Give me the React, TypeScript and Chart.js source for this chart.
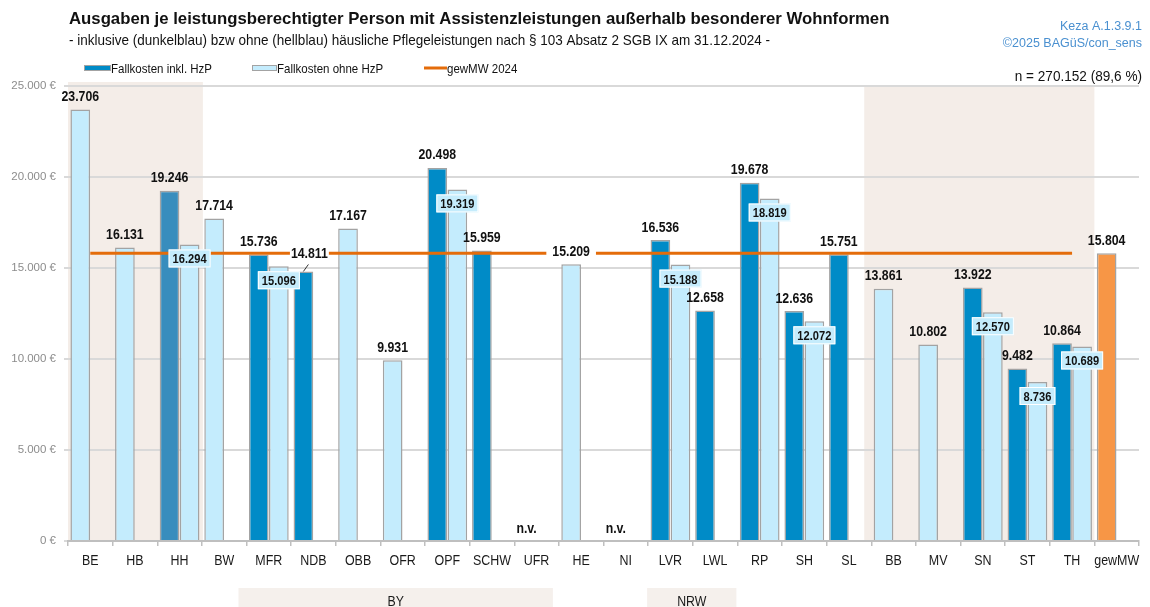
import React, { useEffect, useRef } from 'react';
import { Chart, registerables } from 'chart.js';

Chart.register(...registerables);

// ---------- data ----------
const categories = ['BE', 'HB', 'HH', 'BW', 'MFR', 'NDB', 'OBB', 'OFR', 'OPF', 'SCHW', 'UFR', 'HE', 'NI', 'LVR', 'LWL', 'RP', 'SH', 'SL', 'BB', 'MV', 'SN', 'ST', 'TH', 'gewMW'];
const fallkostenInklHzP: (number | null)[] = [null, null, 19246, null, 15736, 14811, null, null, 20498, 15959, null, null, null, 16536, 12658, 19678, 12636, 15751, null, null, 13922, 9482, 10864, null];
const fallkostenOhneHzP: (number | null)[] = [23706, 16131, 16294, 17714, 15096, null, 17167, 9931, 19319, null, null, 15209, null, 15188, null, 18819, 12072, null, 13861, 10802, 12570, 8736, 10689, null];
const gewMW2024 = 15804;
const notAvailable = ['UFR', 'NI'];
const shadedRanges = [['BE', 'HH'], ['BB', 'TH']];
const groupLabels = [
  { label: 'BY', from: 'MFR', to: 'UFR' },
  { label: 'NRW', from: 'LVR', to: 'LWL' },
];
const yMax = 25000;
const yStep = 5000;

const titleText = 'Ausgaben je leistungsberechtigter Person mit Assistenzleistungen außerhalb besonderer Wohnformen';
const subtitleText = '- inklusive (dunkelblau) bzw ohne (hellblau) häusliche Pflegeleistungen nach § 103 Absatz 2 SGB IX am 31.12.2024 -';
const sourceLines = ['Keza A.1.3.9.1', '©2025 BAGüS/con_sens'];
const nText = 'n = 270.152 (89,6 %)';
const legendLabels = ['Fallkosten inkl. HzP', 'Fallkosten ohne HzP', 'gewMW 2024'];

// ---------- styles ----------
const FONT = '"Liberation Sans", Arial, Helvetica, sans-serif';
const DARK = '#008bc7';
const DARK_HH = '#388dbd';
const LIGHT = '#c4ecfd';
const ORANGE = '#f79646';
const LINE = '#e46c0a';
const BORDER = '#a3a3a3';
const BEIGE = '#f4ede8';
const BOX_BEIGE = '#f5f0ec';
const NARROW = 0.82;

const fmt = (v: number) => String(Math.round(v)).replace(/\B(?=(\d{3})+(?!\d))/g, '.');

// slot assignment: first slot holds the dark bar if present, otherwise the light bar
const slot1 = categories.map((c, i) => (c === 'gewMW' ? gewMW2024 : fallkostenInklHzP[i] ?? fallkostenOhneHzP[i]));
const slot2 = categories.map((_, i) => (fallkostenInklHzP[i] != null ? fallkostenOhneHzP[i] : null));
const slot1Colors = categories.map((c, i) => {
  if (c === 'gewMW') return ORANGE;
  if (fallkostenInklHzP[i] != null) return c === 'HH' ? DARK_HH : DARK;
  return LIGHT;
});
const lineData = categories.map((c) => (c === 'gewMW' ? null : gewMW2024));

function drawText(
  ctx: CanvasRenderingContext2D,
  s: string,
  x: number,
  y: number,
  size: number,
  o: { bold?: boolean; sx?: number; align?: 'left' | 'center' | 'right'; color?: string } = {}
) {
  const sx = o.sx ?? 1;
  ctx.save();
  ctx.font = `${o.bold ? 'bold ' : ''}${size}px ${FONT}`;
  ctx.fillStyle = o.color ?? '#000';
  ctx.textBaseline = 'alphabetic';
  ctx.textAlign = 'left';
  const w = ctx.measureText(s).width * sx;
  const left = o.align === 'center' ? x - w / 2 : o.align === 'right' ? x - w : x;
  ctx.translate(left, y);
  ctx.scale(sx, 1);
  ctx.fillText(s, 0, 0);
  ctx.restore();
  return w;
}

function measure(ctx: CanvasRenderingContext2D, s: string, size: number, bold: boolean, sx: number) {
  ctx.save();
  ctx.font = `${bold ? 'bold ' : ''}${size}px ${FONT}`;
  const w = ctx.measureText(s).width * sx;
  ctx.restore();
  return w;
}

const boundary = (chart: any, i: number) => {
  const x = chart.scales.x;
  const half = (x.getPixelForValue(1) - x.getPixelForValue(0)) / 2;
  return x.getPixelForValue(i) - half;
};

const backgroundPlugin = {
  id: 'bgBands',
  beforeDraw(chart: any) {
    const { ctx, chartArea } = chart;
    ctx.save();
    ctx.fillStyle = BEIGE;
    shadedRanges.forEach(([a, b], k) => {
      const i0 = categories.indexOf(a);
      const i1 = categories.indexOf(b) + 1;
      const x0 = k === 0 ? chartArea.left : boundary(chart, i0) - 7;
      const x1 = k === 0 ? boundary(chart, i1) + 1 : boundary(chart, i1);
      const top = k === 0 ? chartArea.top - 4 : chartArea.top;
      ctx.fillRect(x0, top, x1 - x0, chartArea.bottom - top);
    });
    // group boxes below the axis
    const insets: Record<string, [number, number]> = { BY: [-8, -6], NRW: [-1, -1] };
    groupLabels.forEach((g) => {
      const i0 = categories.indexOf(g.from);
      const i1 = categories.indexOf(g.to) + 1;
      const [d0, d1] = insets[g.label] ?? [0, 0];
      const x0 = boundary(chart, i0) + d0;
      const x1 = boundary(chart, i1) + d1;
      ctx.fillStyle = BOX_BEIGE;
      ctx.fillRect(x0, 588, x1 - x0, 19);
      drawText(ctx, g.label, (x0 + x1) / 2, 605.5, 15, { sx: NARROW, align: 'center', color: '#1a1a1a' });
    });
    ctx.restore();
  },
};

const labelPlugin = {
  id: 'valueLabels',
  afterDatasetsDraw(chart: any) {
    const { ctx } = chart;
    const yScale = chart.scales.y;
    const lineY = yScale.getPixelForValue(gewMW2024);
    const m1 = chart.getDatasetMeta(0);
    const m2 = chart.getDatasetMeta(1);
    const size = 15;
    ctx.save();
    categories.forEach((c, i) => {
      const v = slot1[i];
      if (v != null) {
        const el = m1.data[i];
        let x = el.x;
        let base = el.y - 8.5;
        let padX = 6;
        const s = fmt(v);
        if (c === 'NDB') {
          // label pushed aside with leader line
          ctx.strokeStyle = '#333';
          ctx.lineWidth = 1;
          ctx.beginPath();
          ctx.moveTo(el.x, el.y);
          ctx.lineTo(el.x + 5, el.y - 7);
          ctx.stroke();
          x = el.x + 6;
          base = el.y - 13;
          padX = 1;
        }
        const w = measure(ctx, s, size, true, NARROW);
        const top = base - size * 0.72 - 2;
        const bottom = base + 2;
        if (c !== 'gewMW' && lineY >= top - 1 && lineY <= bottom + 1) {
          ctx.fillStyle = '#ffffff';
          ctx.fillRect(x - w / 2 - padX, top, w + padX * 2, bottom - top);
        }
        drawText(ctx, s, x, base, size, { bold: true, sx: NARROW, align: 'center', color: '#111' });
      }
      const v2 = slot2[i];
      if (v2 != null) {
        const el = m2.data[i];
        const s = fmt(v2);
        const fs = 12.5;
        const sx = 0.89;
        const w = measure(ctx, s, fs, true, sx);
        const bx = el.x - w / 2 - 4;
        const by = el.y + 5;
        ctx.fillStyle = '#c5ecfc';
        ctx.fillRect(bx, by, w + 8, 18);
        ctx.strokeStyle = '#ffffff';
        ctx.lineWidth = 1;
        ctx.strokeRect(bx + 0.5, by + 0.5, w + 7, 17);
        drawText(ctx, s, el.x, el.y + 19, fs, { bold: true, sx, align: 'center', color: '#111' });
      }
    });
    // n.v. markers
    const xs = chart.scales.x;
    const catW = xs.getPixelForValue(1) - xs.getPixelForValue(0);
    notAvailable.forEach((c) => {
      const i = categories.indexOf(c);
      const cx = xs.getPixelForValue(i) - (catW * 0.9) / 4;
      drawText(ctx, 'n.v.', cx, 533, 15, { bold: true, sx: NARROW, align: 'center', color: '#111' });
    });
    ctx.restore();
  },
};

const decorPlugin = {
  id: 'decor',
  afterDraw(chart: any) {
    const { ctx } = chart;
    const xs = chart.scales.x;
    ctx.save();
    // title block
    drawText(ctx, titleText, 69, 24, 17, { bold: true, sx: 0.985, color: '#111' });
    drawText(ctx, subtitleText, 69, 45, 15, { sx: 0.9, color: '#111' });
    drawText(ctx, sourceLines[0], 1142, 29.5, 12.5, { align: 'right', color: '#4a90d0' });
    drawText(ctx, sourceLines[1], 1142, 47, 12.5, { align: 'right', color: '#4a90d0' });
    drawText(ctx, nText, 1142, 80.5, 14, { sx: 0.97, align: 'right', color: '#111' });

    // legend
    ctx.fillStyle = DARK;
    ctx.fillRect(84, 65, 27, 6);
    ctx.strokeStyle = BORDER;
    ctx.lineWidth = 1;
    ctx.strokeRect(84.5, 65.5, 26, 5);
    drawText(ctx, legendLabels[0], 111, 72.5, 13, { sx: 0.885, color: '#111' });
    ctx.fillStyle = LIGHT;
    ctx.fillRect(252, 65, 25, 6);
    ctx.strokeRect(252.5, 65.5, 24, 5);
    drawText(ctx, legendLabels[1], 277, 72.5, 13, { sx: 0.885, color: '#111' });
    ctx.strokeStyle = LINE;
    ctx.lineWidth = 3;
    ctx.beginPath();
    ctx.moveTo(424, 68);
    ctx.lineTo(447, 68);
    ctx.stroke();
    drawText(ctx, legendLabels[2], 447, 72.5, 13, { sx: 0.885, color: '#111' });

    // category labels
    categories.forEach((c, i) => {
      drawText(ctx, c, xs.getPixelForValue(i), 565, 15, { sx: 0.83, align: 'center', color: '#1a1a1a' });
    });
    ctx.restore();
  },
};

export default function App() {
  const canvasRef = useRef<HTMLCanvasElement | null>(null);

  useEffect(() => {
    if (!canvasRef.current) return;
    const chart = new Chart(canvasRef.current, {
      type: 'bar',
      data: {
        labels: categories,
        datasets: [
          {
            label: 'Slot 1',
            data: slot1 as any,
            backgroundColor: slot1Colors,
            borderColor: BORDER,
            borderWidth: 1.5,
            categoryPercentage: 0.9,
            barPercentage: 0.98,
            order: 2,
          },
          {
            label: 'Fallkosten ohne HzP',
            data: slot2 as any,
            backgroundColor: LIGHT,
            borderColor: BORDER,
            borderWidth: 1.5,
            categoryPercentage: 0.9,
            barPercentage: 0.98,
            order: 2,
          },
          {
            type: 'line' as any,
            label: 'gewMW 2024',
            data: lineData as any,
            borderColor: LINE,
            borderWidth: 3,
            pointRadius: 0,
            fill: false,
            order: 1,
          } as any,
        ],
      },
      options: {
        animation: false,
        responsive: false,
        devicePixelRatio: 1,
        layout: { padding: { top: 86, right: 11, left: 0, bottom: 0 } },
        plugins: {
          legend: { display: false },
          tooltip: { enabled: false },
          title: { display: false },
        },
        scales: {
          x: {
            grid: { drawOnChartArea: false, drawTicks: true, tickLength: 5, color: '#bfbfbf', lineWidth: 1.5, offset: true },
            border: { display: true, color: '#bfbfbf', width: 2 },
            ticks: { display: false },
            afterFit: (s: any) => {
              s.height = 66;
            },
          },
          y: {
            min: 0,
            max: yMax,
            ticks: {
              stepSize: yStep,
              callback: (v: any) => fmt(Number(v)) + ' €',
              color: '#8c8c8c',
              font: { family: FONT, size: 11.5 },
              padding: 8,
            },
            grid: { color: '#d9d9d9', lineWidth: 2, tickLength: 4, drawTicks: true },
            border: { display: false },
            afterFit: (s: any) => {
              s.width = 68;
            },
          },
        },
      } as any,
      plugins: [backgroundPlugin, labelPlugin, decorPlugin],
    });
    return () => chart.destroy();
  }, []);

  return (
    <div style={{ position: 'absolute', left: 0, top: 0, width: 1150, height: 607, background: '#fff' }}>
      <canvas ref={canvasRef} width={1150} height={607} />
    </div>
  );
}
